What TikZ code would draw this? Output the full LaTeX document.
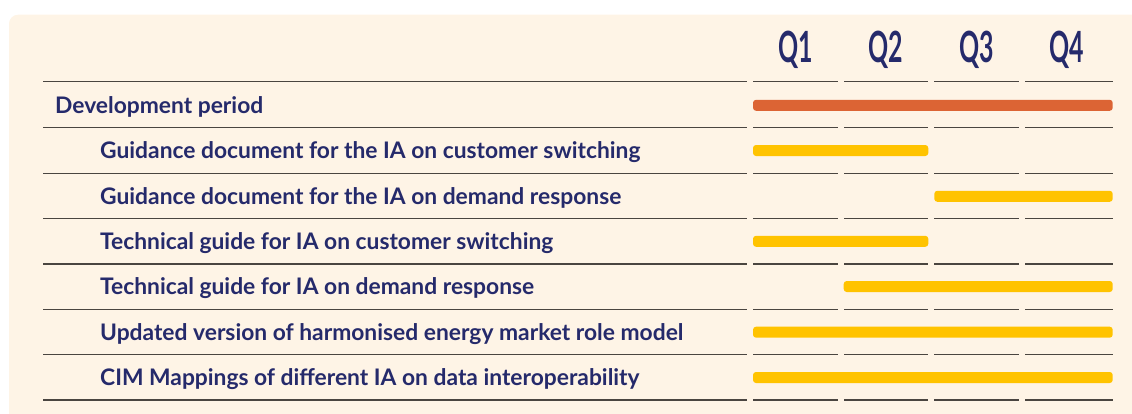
\documentclass[tikz,border=0pt]{standalone}
\usepackage{fontspec}
\setmainfont{Lato}
\definecolor{bg}{HTML}{FEF4E6}
\definecolor{navy}{HTML}{252A6B}
\definecolor{rule}{HTML}{4A4540}
\definecolor{orangebar}{HTML}{DC6434}
\definecolor{yellowbar}{HTML}{FFC300}
\tikzset{
  rowtext/.style={anchor=base west, inner sep=0pt, text=navy, font=\bfseries\fontsize{22.8}{26}\selectfont},
  qlabel/.style={inner sep=0pt, text=navy, font=\bfseries\fontsize{43}{46}\selectfont, xscale=0.58, transform shape},
  ruleline/.style={draw=rule, line width=1.2pt},
  ganttbar/.style={rounded corners=3pt}
}
\newcommand\gbar[4]{\fill[ganttbar,#4] (#1,#3-5.5) rectangle (#2,#3+5.5);}
\begin{document}
\begin{tikzpicture}[x=1pt,y=-1pt]
\useasboundingbox (0,0) rectangle (1132,413);
\fill[bg,rounded corners=9pt] (9,14.7) rectangle (1150,430);
% header
\node[qlabel] (q1) at (796,50) {Q1};
\node[qlabel] (q2) at (886,50) {Q2};
\node[qlabel] (q3) at (977,50) {Q3};
\node[qlabel] (q4) at (1067,50) {Q4};
% rules
\foreach \y in {81.7,127.7,173.3,218.7,264,309.3,354.7,400}{
  \draw[ruleline] (43,\y) -- (747,\y);
  \draw[ruleline] (753,\y) -- (837.5,\y);
  \draw[ruleline] (844,\y) -- (928.3,\y);
  \draw[ruleline] (934.3,\y) -- (1018.7,\y);
  \draw[ruleline] (1025,\y) -- (1112.7,\y);
}
% row texts
\node[rowtext] (r1) at (55,113) {Development period};
\node[rowtext] (r2) at (100,158.5) {Guidance document for the IA on customer switching};
\node[rowtext] (r3) at (100,204) {Guidance document for the IA on demand response};
\node[rowtext] (r4) at (100,249) {Technical guide for IA on customer switching};
\node[rowtext] (r5) at (100,294.5) {Technical guide for IA on demand response};
\node[rowtext] (r6) at (100,340) {Updated version of harmonised energy market role model};
\node[rowtext] (r7) at (100,385.5) {CIM Mappings of different IA on data interoperability};
% bars
\gbar{753}{1112.7}{105.3}{orangebar}
\gbar{753}{928.3}{150.5}{yellowbar}
\gbar{934.3}{1112.7}{196.3}{yellowbar}
\gbar{753}{928.3}{241.3}{yellowbar}
\gbar{843.7}{1112.7}{286.5}{yellowbar}
\gbar{753}{1112.7}{332.2}{yellowbar}
\gbar{753}{1112.7}{377.5}{yellowbar}
\end{tikzpicture}
\end{document}
